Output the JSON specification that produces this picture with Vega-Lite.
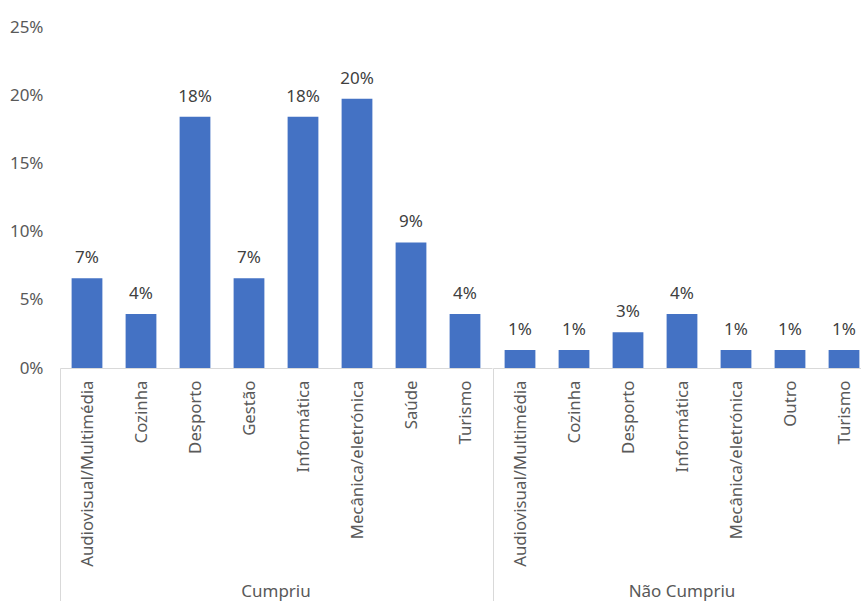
{
  "$schema": "https://vega.github.io/schema/vega-lite/v6.json",
  "padding": {"left": 9, "top": 18, "right": -9, "bottom": 0},
  "background": "white",
  "data": {"values": [
    {"grupo": "Cumpriu", "curso": "Audiovisual/Multimédia", "valor": 0.0658},
    {"grupo": "Cumpriu", "curso": "Cozinha", "valor": 0.0395},
    {"grupo": "Cumpriu", "curso": "Desporto", "valor": 0.1842},
    {"grupo": "Cumpriu", "curso": "Gestão", "valor": 0.0658},
    {"grupo": "Cumpriu", "curso": "Informática", "valor": 0.1842},
    {"grupo": "Cumpriu", "curso": "Mecânica/eletrónica", "valor": 0.1974},
    {"grupo": "Cumpriu", "curso": "Saúde", "valor": 0.0921},
    {"grupo": "Cumpriu", "curso": "Turismo", "valor": 0.0395},
    {"grupo": "Não Cumpriu", "curso": "Audiovisual/Multimédia", "valor": 0.0132},
    {"grupo": "Não Cumpriu", "curso": "Cozinha", "valor": 0.0132},
    {"grupo": "Não Cumpriu", "curso": "Desporto", "valor": 0.0263},
    {"grupo": "Não Cumpriu", "curso": "Informática", "valor": 0.0395},
    {"grupo": "Não Cumpriu", "curso": "Mecânica/eletrónica", "valor": 0.0132},
    {"grupo": "Não Cumpriu", "curso": "Outro", "valor": 0.0132},
    {"grupo": "Não Cumpriu", "curso": "Turismo", "valor": 0.0132}
  ]},
  "facet": {
    "column": {
      "field": "grupo",
      "type": "nominal",
      "sort": ["Cumpriu", "Não Cumpriu"],
      "header": {
        "title": null,
        "labelOrient": "bottom",
        "labelFont": "Noto Sans",
        "labelFontSize": 17,
        "labelColor": "#595959",
        "labelPadding": -18
      }
    }
  },
  "spacing": 0,
  "resolve": {"scale": {"x": "independent"}},
  "spec": {
    "width": {"step": 54},
    "height": 341,
    "encoding": {
      "x": {
        "field": "curso",
        "type": "nominal",
        "sort": null,
        "scale": {"paddingInner": 0.43, "paddingOuter": 0.215},
        "axis": {
          "title": null,
          "labelAngle": -90,
          "labelFont": "Noto Sans",
          "labelFontSize": 16.8,
          "labelColor": "#595959",
          "labelLimit": 0,
          "labelOverlap": false,
          "labelPadding": -221,
          "tickSize": 233,
          "tickOffset": -27,
          "labelOffset": 27,
          "tickColor": "#d9d9d9",
          "tickOpacity": {"condition": {"test": "datum.value === 'Audiovisual/Multimédia'", "value": 1}, "value": 0},
          "domainColor": "#d9d9d9",
          "domainWidth": 1
        }
      },
      "y": {
        "field": "valor",
        "type": "quantitative",
        "scale": {"domain": [0, 0.25]},
        "axis": {
          "title": null,
          "format": ".0%",
          "values": [0, 0.05, 0.1, 0.15, 0.2, 0.25],
          "domain": false,
          "ticks": false,
          "grid": false,
          "labelPadding": 16,
          "labelFont": "Noto Sans",
          "labelFontSize": 17,
          "labelColor": "#595959"
        }
      }
    },
    "layer": [
      {"mark": {"type": "bar", "color": "#4472C4"}},
      {
        "mark": {"type": "text", "dy": -20, "font": "Noto Sans", "fontSize": 17, "color": "#404040", "baseline": "middle"},
        "encoding": {"text": {"field": "valor", "type": "quantitative", "format": ".0%"}}
      }
    ]
  },
  "config": {"view": {"stroke": null}}
}
